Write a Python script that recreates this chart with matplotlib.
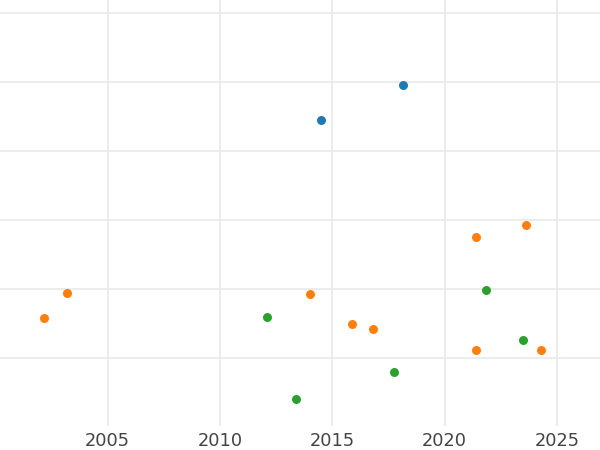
import matplotlib
matplotlib.use("Agg")
import matplotlib.pyplot as plt

# точки по группам: год и значение
blue_x = [2018.16, 2014.49]
blue_y = [4.953, 4.451]

orange_x = [2021.41, 2023.62, 2003.19, 2002.18, 2013.99, 2015.86, 2016.80, 2021.38, 2024.29]
orange_y = [2.752, 2.926, 1.935, 1.579, 1.927, 1.497, 1.424, 1.110, 1.110]

green_x = [2021.84, 2012.10, 2023.49, 2017.76, 2013.38]
green_y = [1.979, 1.588, 1.255, 0.802, 0.411]

x_ticks = [2005, 2010, 2015, 2020, 2025]
y_ticks = [1, 2, 3, 4, 5, 6]

fig = plt.figure(figsize=(6, 4.5), dpi=100)
ax = fig.add_axes([0, 24 / 450, 1, 426 / 450])

ax.scatter(blue_x, blue_y, s=42, color="#1f77b4", zorder=3, linewidths=0)
ax.scatter(orange_x, orange_y, s=42, color="#ff7f0e", zorder=3, linewidths=0)
ax.scatter(green_x, green_y, s=42, color="#2ca02c", zorder=3, linewidths=0)

ax.set_xlim(2000.206, 2026.91)
ax.set_ylim(0.0125, 6.188)
ax.set_xticks(x_ticks)
ax.set_yticks(y_ticks)
ax.set_yticklabels([])
ax.grid(True, color="#ebebeb", linewidth=1.3)
ax.set_axisbelow(True)
ax.tick_params(axis="both", length=0, labelsize=12.8, labelcolor="#444444", pad=4)
for s in ax.spines.values():
    s.set_visible(False)

fig.savefig("out.png", dpi=100)
